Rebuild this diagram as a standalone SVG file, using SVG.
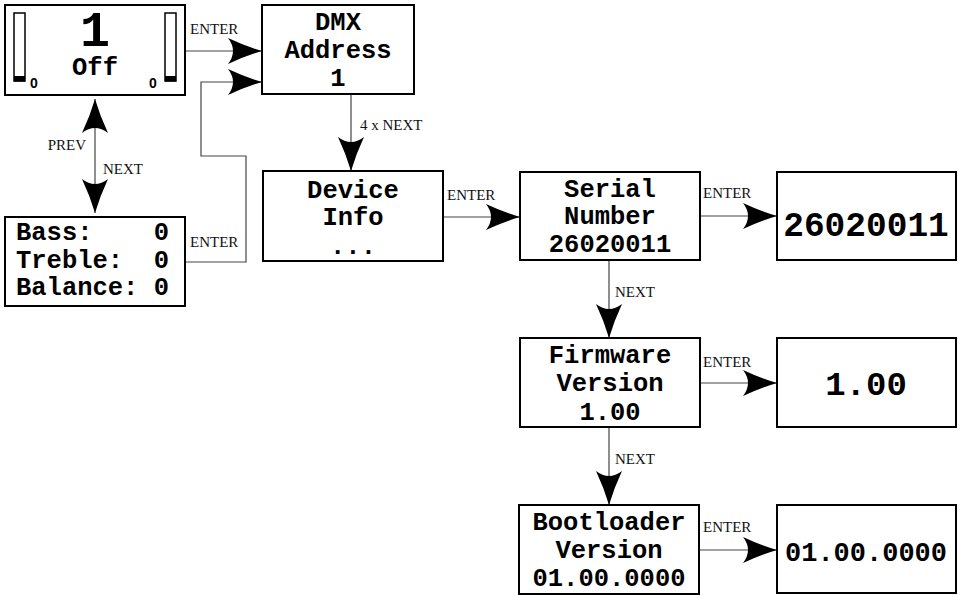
<svg xmlns="http://www.w3.org/2000/svg" width="962" height="595" viewBox="0 0 962 595">
<style>
.box{fill:#fff;stroke:#000;stroke-width:2}
.t{font-family:"Liberation Mono",monospace;font-weight:bold;font-size:25.5px;fill:#000;text-anchor:middle}
.tl{font-family:"Liberation Mono",monospace;font-weight:bold;font-size:25.5px;fill:#000;text-anchor:start;white-space:pre}
.big{font-family:"Liberation Mono",monospace;font-weight:bold;fill:#000;text-anchor:middle}
.lbl{font-family:"Liberation Serif",serif;font-size:15px;fill:#111}
.c{fill:none;stroke:#444;stroke-width:1.2}
.bar{fill:#fff;stroke:#000;stroke-width:1.5}
.small{font-family:"Liberation Sans",sans-serif;font-weight:bold;font-size:14px;fill:#000}
</style>
<defs>
<marker id="ah" markerUnits="userSpaceOnUse" viewBox="-36 -14 37 28" refX="0" refY="0" markerWidth="37" markerHeight="28" orient="auto-start-reverse">
<path d="M0,0 Q-17,-5 -34,-13 Q-24,0 -34,13 Q-17,5 0,0 Z" fill="#000"/>
</marker>
</defs>
<g id="connectors">
<path class="c" d="M185,51 H262" marker-end="url(#ah)"/>
<path class="c" d="M185,262 H246 V156 H201 V82 H262" marker-end="url(#ah)"/>
<path class="c" d="M95,213 V99" marker-start="url(#ah)" marker-end="url(#ah)"/>
<path class="c" d="M351,94 V171" marker-end="url(#ah)"/>
<path class="c" d="M443,217 H520" marker-end="url(#ah)"/>
<path class="c" d="M700,216 H777" marker-end="url(#ah)"/>
<path class="c" d="M609,260 V338" marker-end="url(#ah)"/>
<path class="c" d="M700,383 H777" marker-end="url(#ah)"/>
<path class="c" d="M609,427 V505" marker-end="url(#ah)"/>
<path class="c" d="M699,550 H777" marker-end="url(#ah)"/>
<text class="lbl" x="190" y="34">ENTER</text>
<text class="lbl" x="190" y="247">ENTER</text>
<text class="lbl" x="86" y="150" text-anchor="end">PREV</text>
<text class="lbl" x="103" y="174">NEXT</text>
<text class="lbl" x="360" y="130">4 x NEXT</text>
<text class="lbl" x="447" y="200">ENTER</text>
<text class="lbl" x="703" y="198">ENTER</text>
<text class="lbl" x="615" y="297">NEXT</text>
<text class="lbl" x="703" y="367">ENTER</text>
<text class="lbl" x="615" y="464">NEXT</text>
<text class="lbl" x="703" y="532">ENTER</text>
</g>
<g id="display">
<rect class="box" x="5" y="5" width="180" height="90"/>
<rect class="bar" x="14" y="13" width="11" height="68"/>
<rect x="14" y="76" width="11" height="5.5" fill="#000"/>
<rect class="bar" x="165" y="13" width="11" height="68"/>
<rect x="165" y="76" width="11" height="5.5" fill="#000"/>
<text class="small" x="30" y="88">0</text>
<text class="small" x="149" y="88">0</text>
<text class="big" x="95" y="46" font-size="50">1</text>
<text class="t" x="95" y="75">Off</text>
</g>
<g id="settings">
<rect class="box" x="5" y="217" width="180" height="89"/>
<text class="tl" x="16" y="240" xml:space="preserve">Bass:    0</text>
<text class="tl" x="16" y="268" xml:space="preserve">Treble:  0</text>
<text class="tl" x="16" y="295" xml:space="preserve">Balance: 0</text>
</g>
<g id="dmx">
<rect class="box" x="262" y="5" width="152" height="89"/>
<text class="t" x="338" y="30">DMX</text>
<text class="t" x="338" y="58">Address</text>
<text class="t" x="338" y="86">1</text>
</g>
<g id="device">
<rect class="box" x="263" y="171" width="180" height="90"/>
<text class="t" x="353" y="198">Device</text>
<text class="t" x="353" y="225">Info</text>
<text class="t" x="353" y="254">...</text>
</g>
<g id="serial">
<rect class="box" x="520" y="172" width="180" height="88"/>
<text class="t" x="610" y="197">Serial</text>
<text class="t" x="610" y="224">Number</text>
<text class="t" x="610" y="252">26020011</text>
</g>
<g id="serial-value">
<rect class="box" x="777" y="172" width="179" height="88"/>
<text class="big" x="866" y="236" font-size="34.5">26020011</text>
</g>
<g id="firmware">
<rect class="box" x="520" y="338" width="180" height="89"/>
<text class="t" x="610" y="363">Firmware</text>
<text class="t" x="610" y="391">Version</text>
<text class="t" x="610" y="420">1.00</text>
</g>
<g id="firmware-value">
<rect class="box" x="777" y="338" width="179" height="89"/>
<text class="big" x="866" y="395" font-size="34">1.00</text>
</g>
<g id="bootloader">
<rect class="box" x="519" y="505" width="180" height="89"/>
<text class="t" x="609" y="530">Bootloader</text>
<text class="t" x="609" y="558">Version</text>
<text class="t" x="609" y="586">01.00.0000</text>
</g>
<g id="bootloader-value">
<rect class="box" x="777" y="505" width="179" height="88"/>
<text class="big" x="866" y="561" font-size="27">01.00.0000</text>
</g>
</svg>
